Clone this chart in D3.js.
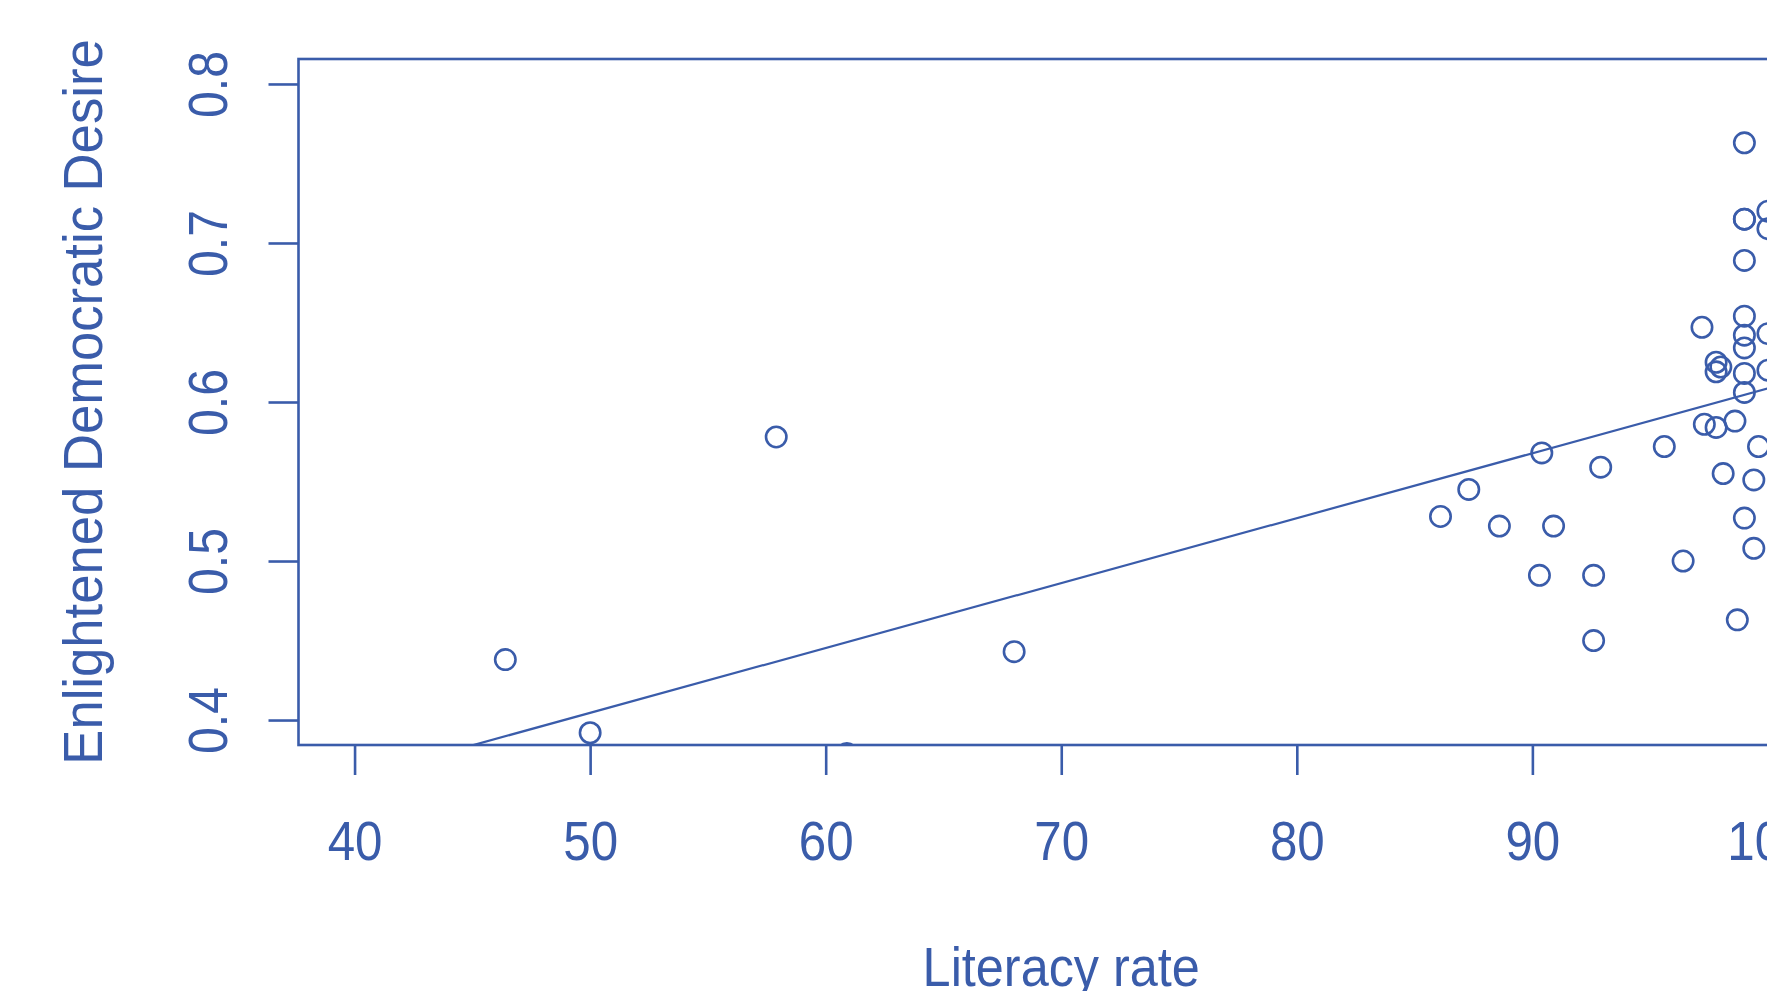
<!DOCTYPE html>
<html>

<script src="https://cdn.jsdelivr.net/npm/d3@7/dist/d3.min.js"></script>

<style>

  body, html {
    padding: 0;
    margin: 0;
    background: #fff;
  }

  svg {
    display: block;
    font-family: "Liberation Sans", Arial, sans-serif;
  }

</style>

<body>
  <svg width="1767" height="991"></svg>

  <script>

    // data
    var literacy = [
      46.4, 50.0, 57.9, 68.0, 60.9,
      86.1, 87.3, 88.6, 90.4, 90.3, 90.9, 92.6, 92.6, 92.9,
      95.6, 96.4, 97.2, 97.3, 97.8, 98.6, 99.6, 98.1, 99.4, 99.0, 99.4, 98.7,
      99.0, 99.0, 99.0, 99.0, 99.0, 99.0, 99.0, 99.0, 99.0,
      97.8, 98.0, 97.8,
      100, 100, 100, 100
    ];
    var desire = [
      0.438, 0.392, 0.578, 0.443, 0.379,
      0.528, 0.545, 0.522, 0.568, 0.491, 0.522, 0.491, 0.450, 0.559,
      0.572, 0.500, 0.647, 0.586, 0.584, 0.588, 0.572, 0.555, 0.551, 0.527, 0.508, 0.463,
      0.763, 0.715, 0.715, 0.689, 0.654, 0.642, 0.634, 0.618, 0.606,
      0.625, 0.622, 0.619,
      0.720, 0.709, 0.643, 0.620
    ];

    var xTicks = [40, 50, 60, 70, 80, 90, 100];
    var yTicks = [0.4, 0.5, 0.6, 0.7, 0.8];

    // least squares line
    var fitIntercept = 0.2004;
    var fitSlope = 0.004082;

    var blue = '#3a5caa';

    var svg = d3.select('svg');

    var plot = {left: 298.5, top: 59, right: 1824, bottom: 745};

    var x = d3.scaleLinear().domain([37.62, 102.38]).range([plot.left, plot.right]);
    var y = d3.scaleLinear().domain([0.3843, 0.8157]).range([plot.bottom, plot.top]);

    svg.append('clipPath').attr('id', 'clip')
      .append('rect')
        .attr('x', plot.left)
        .attr('y', plot.top)
        .attr('width', plot.right - plot.left)
        .attr('height', plot.bottom - plot.top);

    // points
    var points = literacy.map(function (d, i) { return {x: d, y: desire[i]}; });

    svg.append('g')
      .attr('clip-path', 'url(#clip)')
      .selectAll('circle')
      .data(points)
      .enter()
      .append('circle')
        .attr('cx', function (d) { return x(d.x); })
        .attr('cy', function (d) { return y(d.y); })
        .attr('r', 10.2)
        .style('fill', 'none')
        .style('stroke', blue)
        .style('stroke-width', 2.6);

    // regression line
    var xd = x.domain();
    svg.append('line')
      .attr('clip-path', 'url(#clip)')
      .attr('x1', x(xd[0]))
      .attr('y1', y(fitIntercept + fitSlope * xd[0]))
      .attr('x2', x(xd[1]))
      .attr('y2', y(fitIntercept + fitSlope * xd[1]))
      .style('stroke', blue)
      .style('stroke-width', 2.2);

    // axes
    var xAxis = svg.append('g')
      .attr('transform', 'translate(0,' + plot.bottom + ')')
      .call(d3.axisBottom(x).tickValues(xTicks).tickSize(30).tickFormat(d3.format('d')));

    var yAxis = svg.append('g')
      .attr('transform', 'translate(' + plot.left + ',0)')
      .call(d3.axisLeft(y).tickValues(yTicks).tickSize(30).tickFormat(d3.format('.1f')));

    [xAxis, yAxis].forEach(function (g) {
      g.select('.domain').remove();
      g.selectAll('line').style('stroke', blue).style('stroke-width', 2.6);
      g.selectAll('text')
        .style('fill', blue)
        .style('font-size', '56px')
        .style('font-family', '"Liberation Sans", Arial, sans-serif')
        .attr('text-anchor', 'middle')
        .attr('dy', null);
    });

    xAxis.selectAll('text')
      .attr('y', null)
      .attr('transform', 'translate(0,115) scale(0.88,1)');

    yAxis.selectAll('text')
      .attr('x', null)
      .attr('transform', 'translate(-71.5,0) rotate(-90) scale(0.86,1)');

    // box
    svg.append('rect')
      .attr('x', plot.left)
      .attr('y', plot.top)
      .attr('width', plot.right - plot.left)
      .attr('height', plot.bottom - plot.top)
      .style('fill', 'none')
      .style('stroke', blue)
      .style('stroke-width', 2.6);

    // titles
    svg.append('text')
      .attr('transform', 'translate(' + (plot.left + plot.right) / 2 + ',986) scale(0.9,1)')
      .attr('text-anchor', 'middle')
      .style('fill', blue)
      .style('font-size', '56px')
      .text('Literacy rate');

    svg.append('text')
      .attr('transform', 'translate(102,' + (plot.top + plot.bottom) / 2 + ') rotate(-90) scale(0.94,1)')
      .attr('text-anchor', 'middle')
      .style('fill', blue)
      .style('font-size', '56px')
      .text('Enlightened Democratic Desire');

  </script>
</body>
</html>
